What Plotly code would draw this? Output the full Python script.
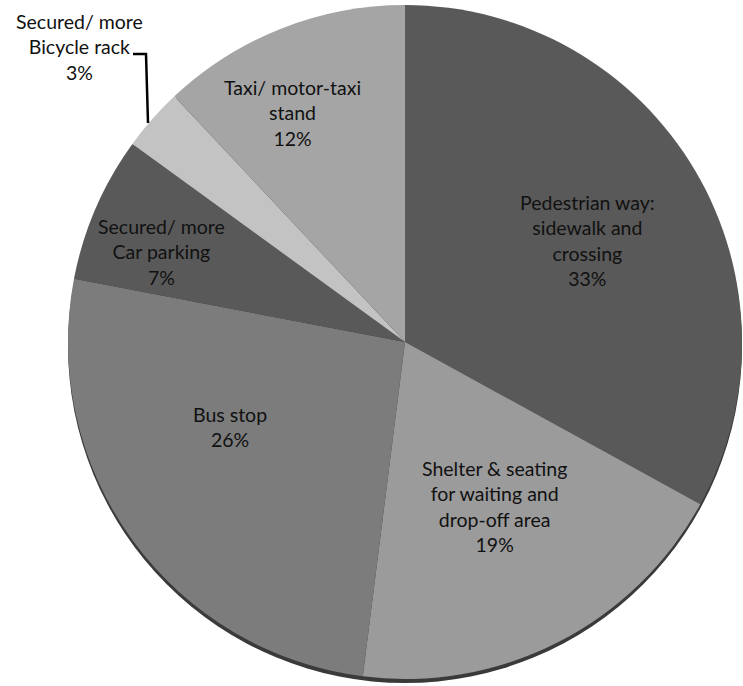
import plotly.graph_objects as go

# Share of respondents' requested facility improvements
categories = [
    "Pedestrian way:<br>sidewalk and<br>crossing",
    "Shelter & seating<br>for waiting and<br>drop-off area",
    "Bus stop",
    "Secured/ more<br>Car parking",
    "Secured/ more<br>Bicycle rack",
    "Taxi/ motor-taxi<br>stand",
]
shares = [33, 19, 26, 7, 3, 12]

slice_colors = ["#595959", "#9b9b9b", "#7c7c7c", "#595959", "#c3c3c3", "#a5a5a5"]
# label anchor points (paper px from top-left) for each slice
label_px = [(587, 240), (495, 506), (230, 427), (161, 252), (79, 47), (292, 113)]

W, H = 743, 686
cx, cy, r = 405, 342, 337

def dom(offset_y=0):
    return dict(
        x=[(cx - r) / W, (cx + r) / W],
        y=[1 - (cy + offset_y + r) / H, 1 - (cy + offset_y - r) / H],
    )

fig = go.Figure()

# dark rim beneath the disc, peeking out along the lower edge
fig.add_trace(go.Pie(
    values=[1], marker=dict(colors=["#3a3a3a"], line=dict(width=0)),
    textinfo="none", hoverinfo="skip", showlegend=False, sort=False,
    domain=dom(4),
))

fig.add_trace(go.Pie(
    labels=categories, values=shares,
    marker=dict(colors=slice_colors, line=dict(width=0)),
    sort=False, direction="clockwise", rotation=0,
    textinfo="none", showlegend=False,
    domain=dom(0),
))

for lab, val, (px, py) in zip(categories, shares, label_px):
    fig.add_annotation(
        x=px / W, y=1 - py / H, xref="paper", yref="paper",
        text=f"{lab}<br>{val}%", showarrow=False,
        xanchor="center", yanchor="middle", align="center",
        font=dict(family="Lato", size=19.5, color="#111111"),
    )

# leader line for the small bicycle-rack slice
fig.add_shape(
    type="path", xref="paper", yref="paper",
    path=f"M {133/W} {1-54/H} L {146/W} {1-54/H} L {148/W} {1-123/H}",
    line=dict(color="#000000", width=2.5),
)

fig.update_layout(
    width=W, height=H,
    margin=dict(l=0, r=0, t=0, b=0),
    paper_bgcolor="white", plot_bgcolor="white",
)

fig.write_html("out.html")
